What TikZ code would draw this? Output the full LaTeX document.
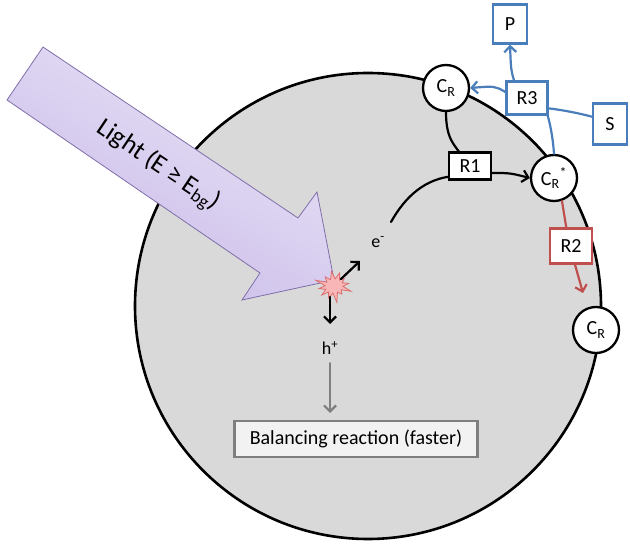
\documentclass[tikz,border=0pt]{standalone}
\usepackage{fontspec}
\setmainfont{Carlito}
\usetikzlibrary{arrows.meta,shapes.symbols,calc}
\definecolor{bblue}{RGB}{74,126,187}
\definecolor{rred}{RGB}{192,80,77}
\definecolor{cellgray}{RGB}{217,217,217}
\definecolor{midgray}{RGB}{127,127,127}
\definecolor{boxfill}{RGB}{242,242,242}
\definecolor{lavtop}{RGB}{234,228,247}
\definecolor{lavbot}{RGB}{200,186,232}
\definecolor{lavline}{RGB}{128,110,170}
\definecolor{burstfill}{RGB}{249,182,182}
\definecolor{burstline}{RGB}{222,110,110}
\begin{document}
\begin{tikzpicture}[x=1pt,y=-1pt,
  lbl/.style={font=\fontsize{18}{21}\selectfont},
  rbox/.style={draw=#1,line width=2.3pt,fill=white,inner sep=0pt,font=\fontsize{20}{24}\selectfont},
  species/.style={circle,draw=black,line width=2.3pt,fill=white,minimum size=46pt,inner sep=0pt,font=\fontsize{20}{24}\selectfont},
  conn/.style={line width=2.2pt,line cap=round},
  tip/.style={-{Straight Barb[length=6pt,width=12pt]}}
]
\useasboundingbox (0,0) rectangle (630,545);

% cell
\fill[cellgray] (368,306) circle[radius=233];
\draw[line width=2.6pt] (368,306) circle[radius=233];

% nodes
\node[species] (CRa) at (446,88) {C\textsubscript{R}};
\node[species] (CRs) at (554,178) {C\textsubscript{R}\textsuperscript{*}};
\node[species] (CRb) at (596,330) {C\textsubscript{R}};
\node[lbl] (em) at (378,242) {e\textsuperscript{-}};
\node[lbl] (hp) at (330,348) {h\textsuperscript{+}};
\coordinate (ecurve) at (391,222);

% connectors under the boxes
\draw[conn] (ecurve) .. controls (405,197) and (425,178) .. (455,176);
\draw[conn] (CRa.south) .. controls (446,140) and (455,145) .. (462,156);
\draw[conn,bblue] (CRs.north) .. controls (553,138) and (550,122) .. (546,110);
\draw[conn,bblue] (600,119) .. controls (580,113) and (562,110) .. (546,108);
\draw[conn,rred] ($(CRs.south)+(8,-1)$) -- (567,232);

% boxes
\node[rbox=black,minimum width=42pt,minimum height=27pt] (R1) at (470,166) {R1};
\node[rbox=bblue,minimum width=41pt,minimum height=33pt] (R3) at (527,98) {R3};
\node[rbox=bblue,minimum width=34pt,minimum height=39pt] (P) at (510,24) {P};
\node[rbox=bblue,minimum width=34pt,minimum height=41pt] (S) at (610,124) {S};
\node[rbox=rred,minimum width=42pt,minimum height=35pt] (R2) at (571,246) {R2};
\node[draw=midgray,line width=2.3pt,fill=boxfill,minimum width=243pt,minimum height=36pt,inner sep=0pt,font=\fontsize{20}{24}\selectfont] (bal) at (356,439) {Balancing reaction (faster)};

% arrows from boxes
\draw[conn,tip] ($(R1.east)+(0,7)$) .. controls (510,173) .. (CRs.west);
\draw[conn,tip,bblue] ($(R3.west)+(0,-6)$) .. controls (495,86) .. (CRa.east);
\draw[conn,tip,bblue] ($(R3.north)+(-13,0)$) .. controls (511,70) .. (P.south);
\draw[conn,tip,rred] ($(R2.south)+(4,0)$) -- (583,293);
\coordinate (gend) at (330,413);
\draw[conn,tip,midgray] ($(hp.south)+(0,5)$) -- (gend);

% light arrow
\path[draw=lavline,line width=0.8pt,top color=lavtop,bottom color=lavbot,shading angle=-30]
  (43,47) -- (298,218) -- (317,192) -- (334,280) -- (242,300) -- (260,273) -- (7,100) -- cycle;
\node[rotate=-33.8,font=\fontsize{26}{30}\selectfont] (light) at (158,166) {Light (E ≥ E\textsubscript{bg})};

% excitation
\node[starburst,starburst points=12,starburst point height=11pt,draw=burstline,fill=burstfill,line width=0.8pt,minimum width=40pt,minimum height=36pt,inner sep=0pt,rotate=10] (burst) at (334,286) {};
\coordinate (eend) at (360,261);
\coordinate (hend) at (330,324);
\draw[conn,tip] (341,279) -- (eend);
\draw[conn,tip] (330,297) -- (hend);
\end{tikzpicture}
\end{document}
